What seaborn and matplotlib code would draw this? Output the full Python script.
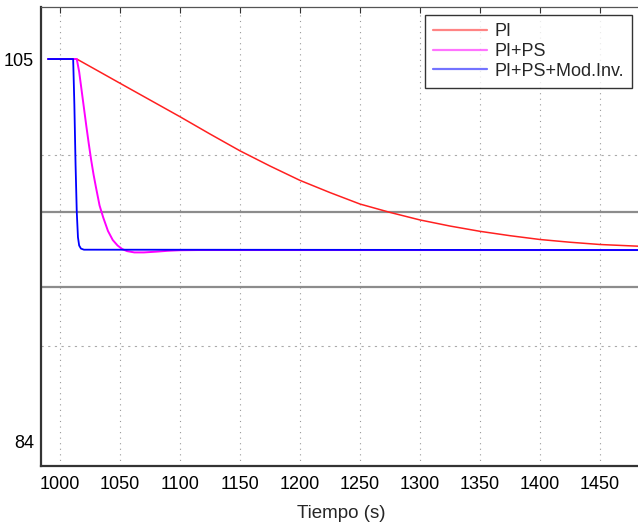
import matplotlib
matplotlib.use("Agg")
import matplotlib.pyplot as plt
import numpy as np
import pandas as pd
import seaborn as sns

# --- data ---
t_pi = [990, 1014, 1030, 1050, 1075, 1100, 1125, 1150, 1175, 1200, 1225,
        1250, 1275, 1300, 1325, 1350, 1375, 1400, 1425, 1450, 1486]
v_pi = [105, 105, 104.41, 103.67, 102.75, 101.83, 100.88, 99.955, 99.12, 98.33,
        97.66, 97.03, 96.57, 96.155, 95.82, 95.53, 95.29, 95.08, 94.93, 94.805,
        94.70]

t_ps = [990, 1014, 1016, 1018, 1020, 1022, 1024, 1026, 1028, 1030, 1033, 1036,
        1040, 1044, 1048, 1052, 1056, 1062, 1070, 1080, 1090, 1100, 1115, 1486]
v_ps = [105, 105, 104.3, 103.3, 102.3, 101.3, 100.35, 99.45, 98.65, 97.95,
        96.95, 96.3, 95.55, 95.05, 94.75, 94.55, 94.44, 94.37, 94.37, 94.41,
        94.46, 94.49, 94.5, 94.5]

t_inv = [990, 1011, 1012, 1013, 1014, 1015, 1016, 1017.5, 1020, 1486]
v_inv = [105, 105, 102.5, 99.2, 96.6, 95.2, 94.75, 94.58, 94.52, 94.5]

labels = ["PI", "PI+PS", "PI+PS+Mod.Inv."]
colors = ["#ff2020", "#ff00ff", "#0000ff"]
band_upper = 96.6
band_lower = 92.45

x_ticks = [1000, 1050, 1100, 1150, 1200, 1250, 1300, 1350, 1400, 1450]
y_ticks = [84, 87.5, 91, 94.5, 98, 101.5, 105]
y_tick_labels = ["84", "", "", "", "", "", "105"]
y_grid = [84, 89.25, 94.5, 99.75, 105]

sns.set_theme(style="white")
plt.rcParams["font.family"] = ["Liberation Sans", "DejaVu Sans"]

fig = plt.figure(figsize=(6.38, 5.25), dpi=100)
ax = fig.add_axes([41 / 638, 1 - 466 / 525, 600 / 638, 459 / 525])

ax.axhline(band_upper, color="#8c8c8c", linewidth=1.6, zorder=1)
ax.axhline(band_lower, color="#8c8c8c", linewidth=1.6, zorder=1)

series = [(t_pi, v_pi, 1.1), (t_ps, v_ps, 1.4), (t_inv, v_inv, 1.3)]
for (t, v, lw), lab, col in zip(series, labels, colors):
    df = pd.DataFrame({"t": t, "v": v})
    sns.lineplot(data=df, x="t", y="v", ax=ax, color=col, linewidth=lw,
                 label=lab, sort=False, estimator=None, zorder=3)

ax.set_xlim(984.2, 1484.2)
ax.set_ylim(82.63, 107.86)

ax.set_xticks(x_ticks)
ax.set_yticks(y_ticks)
ax.set_yticklabels(y_tick_labels)
ax.set_yticks(y_grid, minor=True)
ax.tick_params(axis="y", which="minor", length=0)
ax.tick_params(axis="both", which="major", direction="in", length=4,
               width=0.8, color="#333333", labelsize=13, labelcolor="black",
               top=True, right=False)
ax.tick_params(axis="x", which="major", pad=7)
ax.tick_params(axis="y", which="major", pad=5)

ax.grid(True, axis="x", which="major", linestyle=(0, (1, 4)),
        color="#999999", linewidth=0.8)
ax.grid(True, axis="y", which="minor", linestyle=(0, (2, 4)),
        color="#aaaaaa", linewidth=0.8)
ax.grid(False, axis="y", which="major")

for side in ["left", "bottom"]:
    ax.spines[side].set_color("#333333")
    ax.spines[side].set_linewidth(1.6)
ax.spines["top"].set_color("#555555")
ax.spines["top"].set_linewidth(0.9)
ax.spines["right"].set_visible(False)

ax.set_xlabel("Tiempo (s)", fontsize=13.5, labelpad=9)
ax.set_ylabel("")

leg = ax.legend(loc="upper right", bbox_to_anchor=(632 / 638, 1 - 15 / 525),
                bbox_transform=fig.transFigure, borderaxespad=0,
                frameon=True, fancybox=False, shadow=False, fontsize=13,
                handlelength=3.0, handletextpad=0.4, labelspacing=0.15,
                borderpad=0.45)
leg.get_frame().set_edgecolor("black")
leg.get_frame().set_linewidth(1.0)
for line in leg.get_lines():
    line.set_alpha(0.55)
    line.set_linewidth(1.6)

fig.savefig("out.png", dpi=100)
